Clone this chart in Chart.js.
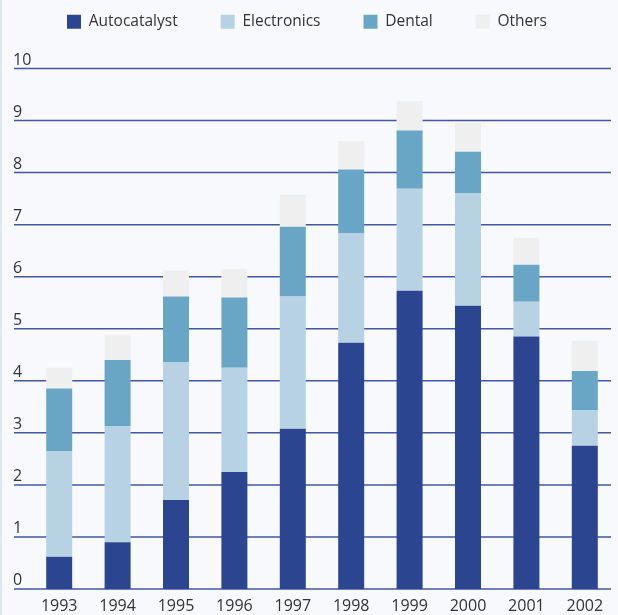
<!DOCTYPE html>
<html>
<head>
<meta charset="utf-8">
<script src="https://cdn.jsdelivr.net/npm/chart.js@4.4.1/dist/chart.umd.min.js"></script>
<style>
  html, body { margin: 0; padding: 0; background: #f7f9fc; overflow: hidden; }
  #wrap { width: 618px; height: 615px; border-left: 2px solid #dde7f3; box-sizing: border-box; }
  canvas { display: block; }
</style>
</head>
<body>
<div id="wrap"><canvas id="chart" width="616" height="615"></canvas></div>
<script>
const years = ['1993', '1994', '1995', '1996', '1997', '1998', '1999', '2000', '2001', '2002'];
const autocatalyst = [0.62, 0.90, 1.71, 2.25, 3.08, 4.73, 5.73, 5.44, 4.85, 2.75];
const electronics = [2.03, 2.23, 2.64, 2.00, 2.54, 2.10, 1.96, 2.16, 0.67, 0.69];
const dental = [1.20, 1.27, 1.27, 1.35, 1.34, 1.23, 1.12, 0.80, 0.71, 0.75];
const others = [0.40, 0.48, 0.50, 0.55, 0.62, 0.54, 0.56, 0.56, 0.52, 0.58];
const yTicks = [0, 1, 2, 3, 4, 5, 6, 7, 8, 9, 10];

const FONT = "'Open Sans', sans-serif";

// horizontal lines + labels drawn wider than the bar area
const gridPlugin = {
  id: 'wideGrid',
  beforeDatasetsDraw(chart) {
    const ctx = chart.ctx;
    const y = chart.scales.y;
    ctx.save();
    ctx.strokeStyle = '#4157a2';
    ctx.lineWidth = 1.5;
    ctx.fillStyle = '#333333';
    ctx.font = '16px ' + FONT;
    ctx.textAlign = 'left';
    ctx.textBaseline = 'alphabetic';
    yTicks.forEach(t => {
      const py = y.getPixelForValue(t);
      ctx.beginPath();
      ctx.moveTo(12, py);
      ctx.lineTo(609, py);
      ctx.stroke();
      ctx.fillText(String(t), 11, py - 4);
    });
    ctx.restore();
  }
};

// more room between legend and plot, legend nudged left
const legendTweak = {
  id: 'legendTweak',
  beforeInit(chart) {
    const lg = chart.legend;
    const fit = lg.fit;
    lg.fit = function () {
      fit.call(lg);
      lg.height += 29;
    };
    const draw = lg.draw;
    lg.draw = function (area) {
      lg.ctx.save();
      lg.ctx.translate(-15, 0);
      draw.call(lg, area);
      lg.ctx.restore();
    };
  }
};

new Chart(document.getElementById('chart'), {
  type: 'bar',
  data: {
    labels: years,
    datasets: [
      { label: 'Autocatalyst', data: autocatalyst, backgroundColor: '#2b4590' },
      { label: 'Electronics', data: electronics, backgroundColor: '#b6d2e3' },
      { label: 'Dental', data: dental, backgroundColor: '#69a6c5' },
      { label: 'Others', data: others, backgroundColor: '#efefef' }
    ]
  },
  options: {
    responsive: false,
    animation: false,
    devicePixelRatio: 1,
    layout: { padding: { left: 28, right: 4, top: -29, bottom: -8 } },
    datasets: { bar: { barPercentage: 0.89, categoryPercentage: 0.5 } },
    plugins: {
      legend: {
        position: 'top',
        labels: {
          boxWidth: 14, boxHeight: 14, padding: 43,
          color: '#333333', font: { family: FONT, size: 15.5 }
        }
      },
      tooltip: { enabled: false }
    },
    scales: {
      x: {
        stacked: true,
        grid: { display: false, drawTicks: false },
        border: { display: false },
        ticks: { color: '#333333', font: { family: FONT, size: 16, lineHeight: 1 }, padding: 9, maxRotation: 0, autoSkip: false }
      },
      y: {
        stacked: true,
        min: 0, max: 10,
        display: false
      }
    }
  },
  plugins: [gridPlugin, legendTweak]
});
</script>
</body>
</html>
